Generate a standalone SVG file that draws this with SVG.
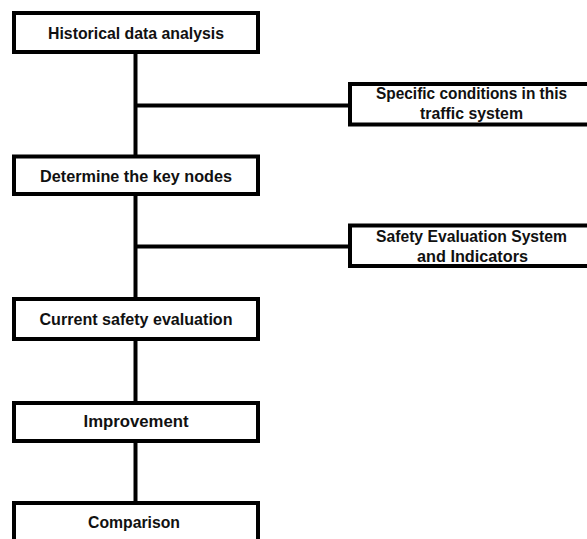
<svg xmlns="http://www.w3.org/2000/svg" width="587" height="539" viewBox="0 0 587 539">
<style>
.box{fill:#fff;stroke:#000;stroke-width:4}
.ln{stroke:#000;stroke-width:4;fill:none}
text{font-family:"Liberation Sans",Arial,sans-serif;font-weight:bold;font-size:16.5px;fill:#111;text-anchor:middle}
</style>
<rect width="587" height="539" fill="#fff"/>
<g id="connectors">
<line class="ln" x1="135.5" y1="52" x2="135.5" y2="156"/>
<line class="ln" x1="135.5" y1="194" x2="135.5" y2="299"/>
<line class="ln" x1="135.5" y1="339" x2="135.5" y2="403"/>
<line class="ln" x1="135.5" y1="441" x2="135.5" y2="503"/>
<line class="ln" x1="135.5" y1="105.5" x2="350" y2="105.5"/>
<line class="ln" x1="135.5" y1="246.5" x2="350" y2="246.5"/>
</g>
<g id="n1"><rect class="box" x="14" y="13" width="244" height="39"/><text x="136" y="39" textLength="176" lengthAdjust="spacingAndGlyphs">Historical data analysis</text></g>
<g id="n2"><rect class="box" x="14" y="156.5" width="244" height="37.5"/><text x="136" y="182" textLength="192" lengthAdjust="spacingAndGlyphs">Determine the key nodes</text></g>
<g id="n3"><rect class="box" x="14" y="299" width="244" height="40"/><text x="136" y="325" textLength="193" lengthAdjust="spacingAndGlyphs">Current safety evaluation</text></g>
<g id="n4"><rect class="box" x="14" y="403" width="244" height="38"/><text x="136" y="427" textLength="105" lengthAdjust="spacingAndGlyphs">Improvement</text></g>
<g id="n5"><rect class="box" x="14" y="503" width="244" height="50"/><text x="134" y="528" textLength="92" lengthAdjust="spacingAndGlyphs">Comparison</text></g>
<g id="s1"><rect class="box" x="350" y="84" width="244" height="40.5"/><text x="471.5" y="99" textLength="191" lengthAdjust="spacingAndGlyphs">Specific conditions in this</text><text x="471.5" y="119" textLength="103" lengthAdjust="spacingAndGlyphs">traffic system</text></g>
<g id="s2"><rect class="box" x="350" y="225.5" width="244" height="40.5"/><text x="471.5" y="242" textLength="191" lengthAdjust="spacingAndGlyphs">Safety Evaluation System</text><text x="472.5" y="262" textLength="111" lengthAdjust="spacingAndGlyphs">and Indicators</text></g>
</svg>
